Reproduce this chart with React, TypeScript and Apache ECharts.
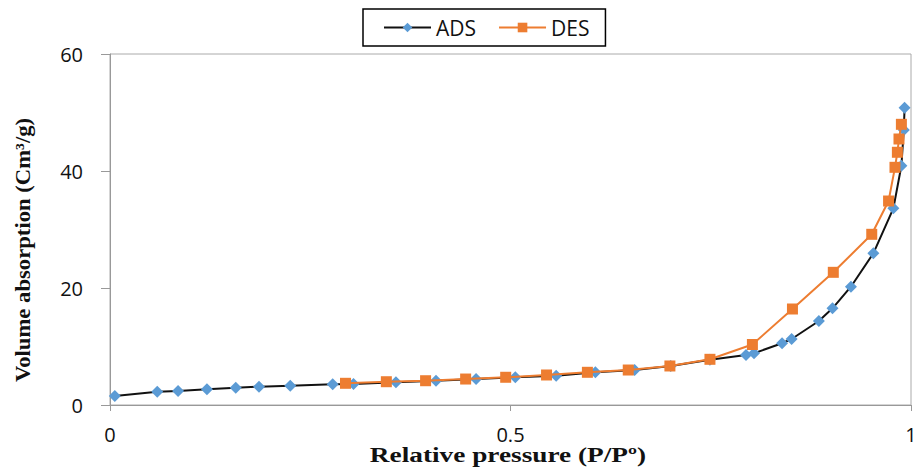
import React, { useEffect, useRef } from "react";
import * as echarts from "echarts";

const adsX = [0.006, 0.059, 0.085, 0.121, 0.157, 0.186, 0.225, 0.278, 0.304, 0.357, 0.407, 0.457, 0.506, 0.557, 0.606, 0.655, 0.7, 0.749, 0.794, 0.804, 0.839, 0.851, 0.885, 0.902, 0.925, 0.953, 0.978, 0.988, 0.991, 0.992];
const adsY = [1.54, 2.27, 2.39, 2.68, 2.96, 3.13, 3.3, 3.54, 3.59, 3.88, 4.15, 4.44, 4.74, 5.01, 5.59, 5.98, 6.67, 7.75, 8.55, 8.84, 10.55, 11.28, 14.36, 16.53, 20.22, 25.93, 33.62, 40.9, 47.0, 50.8];

const desX = [0.988, 0.985, 0.983, 0.98, 0.972, 0.951, 0.903, 0.852, 0.802, 0.749, 0.699, 0.647, 0.596, 0.545, 0.494, 0.444, 0.394, 0.345, 0.294];
const desY = [47.98, 45.47, 43.2, 40.63, 34.87, 29.18, 22.68, 16.41, 10.34, 7.81, 6.67, 5.98, 5.59, 5.13, 4.74, 4.44, 4.15, 3.98, 3.71];

const xTicks = [0, 0.5, 1];
const yTicks = [0, 20, 40, 60];
const xTitle = "Relative pressure (P/Pº)";
const yTitle = "Volume absorption (Cm³/g)";

export default function App() {
  const ref = useRef<HTMLDivElement>(null);
  useEffect(() => {
    if (!ref.current) return;
    const chart = echarts.init(ref.current, null, { renderer: "svg" });
    const sans = "'Open Sans', 'Noto Sans', sans-serif";
    const serif = "'Liberation Serif', 'DejaVu Serif', serif";
    chart.setOption({
      animation: false,
      backgroundColor: "#ffffff",
      legend: {
        left: 363,
        top: 9,
        padding: [8, 16, 8, 20],
        borderColor: "#000",
        borderWidth: 1.5,
        itemWidth: 47,
        itemHeight: 12,
        itemGap: 22,
        textStyle: { fontFamily: sans, fontSize: 21, color: "#111" },
        data: ["ADS", "DES"],
      },
      grid: {
        left: 110,
        right: 7,
        top: 54,
        bottom: 63,
        show: true,
        borderColor: "#aaaaaa",
        borderWidth: 1,
        outerBoundsMode: "none",
        containLabel: false,
      },
      xAxis: {
        type: "value",
        min: xTicks[0],
        max: xTicks[xTicks.length - 1],
        interval: 0.5,
        splitLine: { show: false },
        axisLine: { show: true, lineStyle: { color: "#999", width: 1 } },
        axisTick: { show: true, length: 6, lineStyle: { color: "#999" } },
        axisLabel: { fontFamily: sans, fontSize: 20, color: "#111", margin: 19 },
      },
      yAxis: {
        type: "value",
        min: yTicks[0],
        max: yTicks[yTicks.length - 1],
        interval: 20,
        splitLine: { show: false },
        axisLine: { show: true, lineStyle: { color: "#999", width: 1 } },
        axisTick: { show: true, length: 9, lineStyle: { color: "#999" } },
        axisLabel: { fontFamily: sans, fontSize: 20, color: "#111", margin: 27 },
      },
      graphic: [
        {
          type: "text",
          x: 508,
          y: 455,
          scaleX: 1.3,
          style: {
            text: xTitle,
            fontFamily: serif,
            fontSize: 21,
            fontWeight: "bold",
            fill: "#111",
            align: "center",
            verticalAlign: "middle",
          },
        },
        {
          type: "text",
          x: 23,
          y: 250,
          rotation: Math.PI / 2,
          scaleX: 1.08,
          style: {
            text: yTitle,
            fontFamily: serif,
            fontSize: 21,
            fontWeight: "bold",
            fill: "#111",
            align: "center",
            verticalAlign: "middle",
          },
        },
      ],
      series: [
        {
          name: "ADS",
          type: "line",
          data: adsX.map((x, i) => [x, adsY[i]]),
          symbol: "diamond",
          symbolSize: 12,
          lineStyle: { color: "#111", width: 2 },
          itemStyle: { color: "#5B9BD5" },
          z: 2,
        },
        {
          name: "DES",
          type: "line",
          data: desX.map((x, i) => [x, desY[i]]),
          symbol: "rect",
          symbolSize: 11,
          lineStyle: { color: "#ED7D31", width: 2 },
          itemStyle: { color: "#ED7D31" },
          z: 3,
        },
      ],
    });
    return () => chart.dispose();
  }, []);
  return <div ref={ref} style={{ width: 918, height: 468, position: "absolute", left: 0, top: 0 }} />;
}
